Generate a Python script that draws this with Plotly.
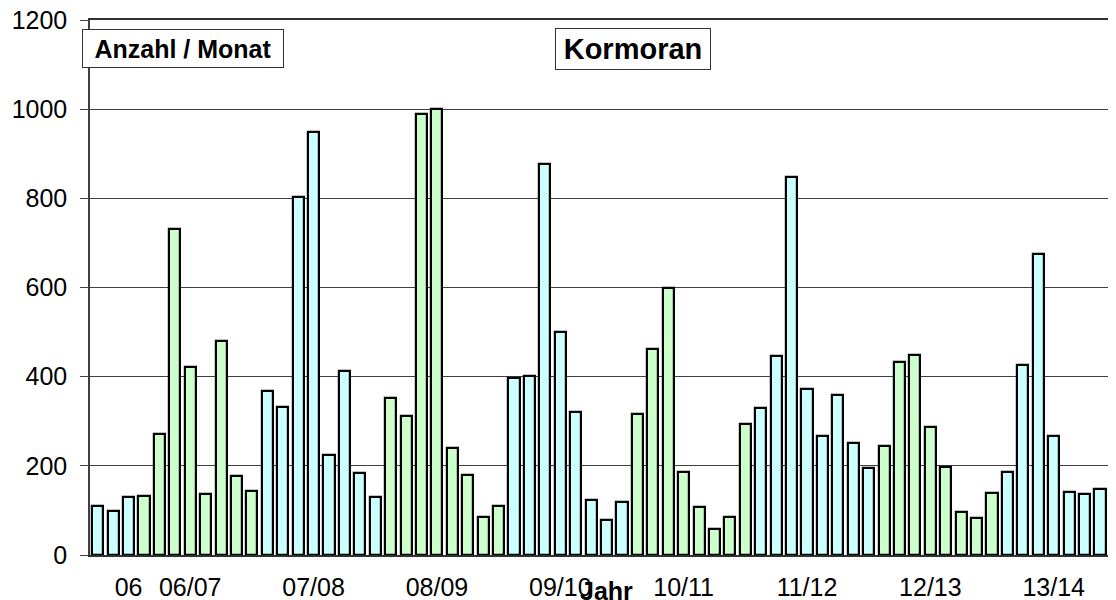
import plotly.graph_objects as go

# Monthly counts (Kormoran), one value per month, in chronological order
counts = [110, 98, 130,
          133, 272, 731, 422, 136, 479, 178, 143,
          367, 331, 802, 949, 225, 412, 183, 130,
          352, 311, 989, 1001, 240, 179, 86, 111,
          398, 401, 877, 500, 320, 123, 79, 120,
          316, 461, 600, 186, 107, 59, 85, 294,
          329, 447, 847, 373, 266, 358, 251, 196,
          244, 433, 449, 287, 197, 96, 84, 140,
          186, 427, 676, 266, 142, 137, 148, 160]

# months per season group (alternating colours)
season_months = [3, 8, 8, 8, 8, 8, 8, 8, 8]
season_colors = ["#CCFFFF", "#CCFFCC"]

tick_months = [3, 7, 15, 23, 31, 39, 47, 55, 63]
tick_labels = ["06", "06/07", "07/08", "08/09", "09/10", "10/11", "11/12", "12/13", "13/14"]

months = list(range(1, len(counts) + 1))
bar_colors = []
for g, n in enumerate(season_months):
    bar_colors += [season_colors[g % 2]] * n

FONT = "Arial, Liberation Sans, sans-serif"

fig = go.Figure()
fig.add_trace(go.Bar(
    x=months, y=counts,
    width=0.72,
    marker=dict(color=bar_colors, line=dict(color="black", width=2.2)),
    showlegend=False,
))

# the page body has an 8px margin, so the figure is sized/shifted to compensate
fig.update_layout(
    width=1108, height=592,
    margin=dict(l=82, r=0, t=12, b=45, autoexpand=False),
    paper_bgcolor="white", plot_bgcolor="white",
    font=dict(family=FONT, size=25, color="black"),
    bargap=0,
    xaxis=dict(
        range=[0.5, 67.04], automargin=False,
        tickmode="array", tickvals=tick_months, ticktext=tick_labels,
        ticks="", showgrid=False, zeroline=False,
        showline=True, linecolor="#303030", linewidth=1.5, mirror=True,
        tickfont=dict(size=25, family=FONT),
        ticklabelstandoff=9,
    ),
    yaxis=dict(
        range=[0, 1200], tickmode="linear", tick0=0, dtick=200,
        automargin=False, ticklabeloverflow="allow",
        showgrid=True, gridcolor="#404040", gridwidth=1,
        zeroline=False,
        showline=True, linecolor="#404040", linewidth=1.5,
        ticks="outside", ticklen=8, tickcolor="#404040", tickwidth=1,
        tickfont=dict(size=25, family=FONT),
        ticklabelstandoff=8,
    ),
    annotations=[
        dict(text="<b>Anzahl / Monat</b>", xref="paper", yref="paper",
             x=0.0905, y=0.946, xanchor="center", yanchor="middle",
             showarrow=False, font=dict(size=25, family=FONT, color="black"),
             bgcolor="white", bordercolor="#333333", borderwidth=1,
             borderpad=2, width=196, height=33),
        dict(text="<b>Kormoran</b>", xref="paper", yref="paper",
             x=0.5296, y=0.9454, xanchor="center", yanchor="middle",
             showarrow=False, font=dict(size=29, family=FONT, color="black"),
             bgcolor="white", bordercolor="#333333", borderwidth=1,
             borderpad=2, width=150, height=36),
        dict(text="<b>Jahr</b>", xref="paper", yref="paper",
             x=0.503, y=-0.067, xanchor="center", yanchor="middle",
             showarrow=False, font=dict(size=25, family=FONT, color="black")),
    ],
)

fig.write_html("out.html")
